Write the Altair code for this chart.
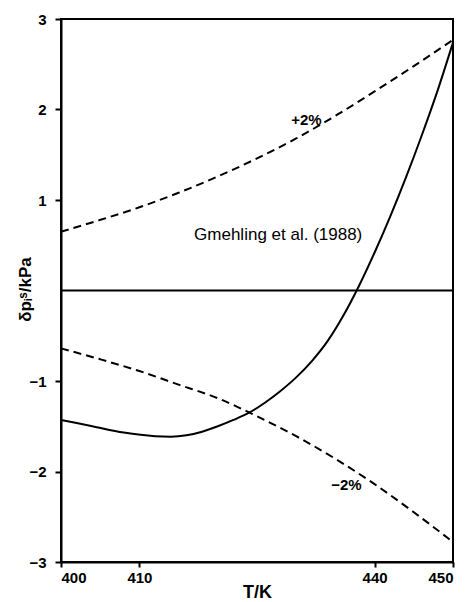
import altair as alt
import pandas as pd

# Data
T_plus = [400, 405, 410, 415, 420, 425, 430, 435, 440, 445, 450]
dp_plus = [0.65, 0.78, 0.92, 1.08, 1.26, 1.46, 1.68, 1.93, 2.20, 2.48, 2.77]

T_minus = [400, 405, 410, 415, 420, 425, 430, 435, 440, 445, 450]
dp_minus = [-0.64, -0.76, -0.89, -1.04, -1.19, -1.39, -1.61, -1.86, -2.14, -2.45, -2.78]

T_calc = [400, 404, 408, 412, 414, 416, 418, 420, 422, 424, 426, 428, 430,
          432, 434, 436, 438, 440, 442, 444, 446, 448, 450]
dp_calc = [-1.43, -1.50, -1.57, -1.61, -1.615, -1.60, -1.56, -1.50, -1.43, -1.35,
           -1.24, -1.11, -0.96, -0.78, -0.56, -0.28, 0.05, 0.42, 0.82, 1.25,
           1.71, 2.20, 2.74]

zero_T = [400, 450]
zero_dp = [0, 0]

label_text = ["+2%", "Gmehling et al. (1988)", "\u22122%"]
label_T = [431.3, 427.7, 436.4]
label_dp = [1.88, 0.61, -2.15]
label_bold = ["bold", "normal", "bold"]

x_ticks = [400, 410, 440, 450]
y_ticks = [-3, -2, -1, 1, 2, 3]

FONT = "Liberation Sans"

df_plus = pd.DataFrame({"T": T_plus, "dp": dp_plus})
df_minus = pd.DataFrame({"T": T_minus, "dp": dp_minus})
df_calc = pd.DataFrame({"T": T_calc, "dp": dp_calc})
df_zero = pd.DataFrame({"T": zero_T, "dp": zero_dp})
df_lab = pd.DataFrame({"text": label_text, "T": label_T, "dp": label_dp, "w": label_bold})

x_scale = alt.Scale(domain=[400, 450], nice=False, zero=False)
y_scale = alt.Scale(domain=[-3, 3], nice=False, zero=False)

x_axis = alt.Axis(values=x_ticks, title="T/K", format="d", grid=False,
                  tickSize=5, tickWidth=2, tickColor="black",
                  domainColor="black", domainWidth=2,
                  labelFont=FONT, labelFontSize=15, labelFontWeight="bold",
                  labelColor="black", labelPadding=3,
                  titleFont=FONT, titleFontSize=18, titleFontWeight="bold",
                  titleColor="black", titlePadding=-2)
y_axis = alt.Axis(values=y_ticks, title="\u03b4p\u1d62\u02e2/kPa", format="d", grid=False,
                  tickSize=6, tickWidth=2, tickColor="black",
                  domainColor="black", domainWidth=2,
                  labelFont=FONT, labelFontSize=15, labelFontWeight="bold",
                  labelColor="black", labelPadding=9,
                  titleFont=FONT, titleFontSize=17, titleFontWeight="bold",
                  titleColor="black", titleX=-36, titleY=270,
                  titleBaseline="middle", titleAngle=270)

x_enc = alt.X("T:Q", scale=x_scale, axis=x_axis)
y_enc = alt.Y("dp:Q", scale=y_scale, axis=y_axis)

plus = alt.Chart(df_plus).mark_line(color="black", strokeWidth=2, strokeDash=[8, 5],
                                    interpolate="monotone").encode(x=x_enc, y=y_enc)
minus = alt.Chart(df_minus).mark_line(color="black", strokeWidth=2, strokeDash=[8, 5],
                                      interpolate="monotone").encode(x="T:Q", y="dp:Q")
calc = alt.Chart(df_calc).mark_line(color="black", strokeWidth=2,
                                    interpolate="monotone").encode(x="T:Q", y="dp:Q")
zero = alt.Chart(df_zero).mark_line(color="black", strokeWidth=2).encode(x="T:Q", y="dp:Q")

labels_bold = alt.Chart(df_lab[df_lab.w == "bold"]).mark_text(
    font=FONT, fontSize=15, fontWeight="bold", color="black"
).encode(x="T:Q", y="dp:Q", text="text:N")
labels_norm = alt.Chart(df_lab[df_lab.w == "normal"]).mark_text(
    font=FONT, fontSize=17, fontWeight="normal", color="black"
).encode(x="T:Q", y="dp:Q", text="text:N")

chart = alt.layer(zero, plus, minus, calc, labels_bold, labels_norm).properties(
    width=392, height=543,
    autosize=alt.AutoSizeParams(type="none"),
    padding={"left": 61, "top": 19, "right": 17, "bottom": 40},
    background="white",
).configure_view(stroke="black", strokeWidth=2)

chart.save("out.html", embed_options={"renderer": "svg", "actions": False})
